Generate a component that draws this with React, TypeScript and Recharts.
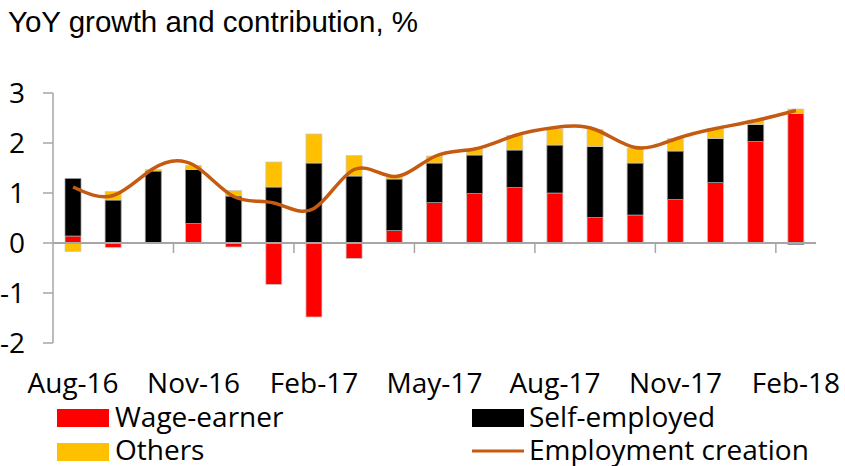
import {
  ComposedChart,
  Bar,
  Line,
  XAxis,
  YAxis,
  ReferenceLine,
} from "recharts";

const months = [
  "Aug-16", "Sep-16", "Oct-16", "Nov-16", "Dec-16", "Jan-17", "Feb-17",
  "Mar-17", "Apr-17", "May-17", "Jun-17", "Jul-17", "Aug-17", "Sep-17",
  "Oct-17", "Nov-17", "Dec-17", "Jan-18", "Feb-18",
];
const wageEarner = [
  0.14, -0.09, 0.01, 0.39, -0.08, -0.83, -1.48, -0.31, 0.25, 0.81,
  0.99, 1.11, 1.0, 0.51, 0.56, 0.87, 1.21, 2.03, 2.59,
];
const selfEmployed = [
  1.15, 0.86, 1.43, 1.08, 0.94, 1.12, 1.6, 1.34, 1.03, 0.79,
  0.77, 0.75, 0.96, 1.42, 1.04, 0.97, 0.88, 0.34, -0.03,
];
const others = [
  -0.17, 0.17, 0.03, 0.08, 0.11, 0.5, 0.58, 0.41, 0.06, 0.14,
  0.12, 0.29, 0.32, 0.34, 0.3, 0.25, 0.2, 0.09, 0.09,
];
const employmentCreation = [
  1.12, 0.95, 1.49, 1.56, 0.93, 0.8, 0.69, 1.47, 1.33, 1.73,
  1.88, 2.15, 2.31, 2.27, 1.91, 2.08, 2.29, 2.45, 2.65,
];
const yTicks = [-2, -1, 0, 1, 2, 3];
// category boundary tick marks on the zero line
const boundaryTicks = ["Nov-16", "Feb-17", "May-17", "Aug-17", "Nov-17", "Feb-18"];

const data = months.map((m, i) => ({
  month: m,
  wage: wageEarner[i],
  self: selfEmployed[i],
  others: others[i],
  total: employmentCreation[i],
}));

const AXIS = "#a6a6a6";
const LABEL_FONT = "'Open Sans', sans-serif";

export default function App() {
  return (
    <div style={{ position: "absolute", left: 0, top: 0, width: 845, height: 466, background: "#fff" }}>
      <ComposedChart
        width={845}
        height={466}
        data={data}
        stackOffset="sign"
        margin={{ top: 93, right: 29, bottom: 93, left: 0 }}
      >
        <XAxis
          dataKey="month"
          interval={2}
          axisLine={false}
          tickLine={false}
          tickSize={0}
          tickMargin={30}
          tick={{ fill: "#000", fontSize: 28, fontFamily: LABEL_FONT }}
        />
        <YAxis
          domain={[-2, 3]}
          ticks={yTicks}
          width={53}
          tickSize={10}
          tickMargin={18}
          axisLine={{ stroke: AXIS, strokeWidth: 1.5 }}
          tickLine={{ stroke: AXIS, strokeWidth: 1.5 }}
          tick={{ fill: "#000", fontSize: 28, fontFamily: LABEL_FONT }}
        />
        <Bar dataKey="wage" stackId="a" fill="#ff0000" stroke="#c8c8c8" strokeWidth={0.75} barSize={16} isAnimationActive={false} />
        <Bar dataKey="self" stackId="a" fill="#000000" stroke="#9a9a9a" strokeWidth={0.75} barSize={16} isAnimationActive={false} />
        <Bar dataKey="others" stackId="a" fill="#ffc000" stroke="#c8c8c8" strokeWidth={0.75} barSize={16} isAnimationActive={false} />
        <ReferenceLine y={0} stroke={AXIS} strokeWidth={2} />
        {boundaryTicks.map((m) => (
          <ReferenceLine
            key={m}
            position="start"
            segment={[{ x: m, y: 0 }, { x: m, y: -0.2 }]}
            stroke={AXIS}
            strokeWidth={1.5}
          />
        ))}
        <Line
          dataKey="total"
          type="natural"
          stroke="#c55a11"
          strokeWidth={3.5}
          dot={false}
          isAnimationActive={false}
        />
      </ComposedChart>
      <svg
        width={845}
        height={466}
        style={{ position: "absolute", left: 0, top: 0, pointerEvents: "none" }}
      >
        <text x={8} y={32} fontSize={29.5} fontFamily="'Liberation Sans', Arial, sans-serif" fill="#000">
          YoY growth and contribution, %
        </text>
        <g fontFamily={LABEL_FONT} fontSize={28} fill="#000">
          <rect x={57} y={409} width={52} height={18} fill="#ff0000" />
          <text x={115} y={427}>Wage-earner</text>
          <rect x={57} y={443} width={52} height={18} fill="#ffc000" />
          <text x={115} y={460}>Others</text>
          <rect x={472} y={409} width={52} height={18} fill="#000000" />
          <text x={529} y={427}>Self-employed</text>
          <line x1={472} x2={524} y1={451} y2={451} stroke="#c55a11" strokeWidth={3} />
          <text x={529} y={460}>Employment creation</text>
        </g>
      </svg>
    </div>
  );
}
